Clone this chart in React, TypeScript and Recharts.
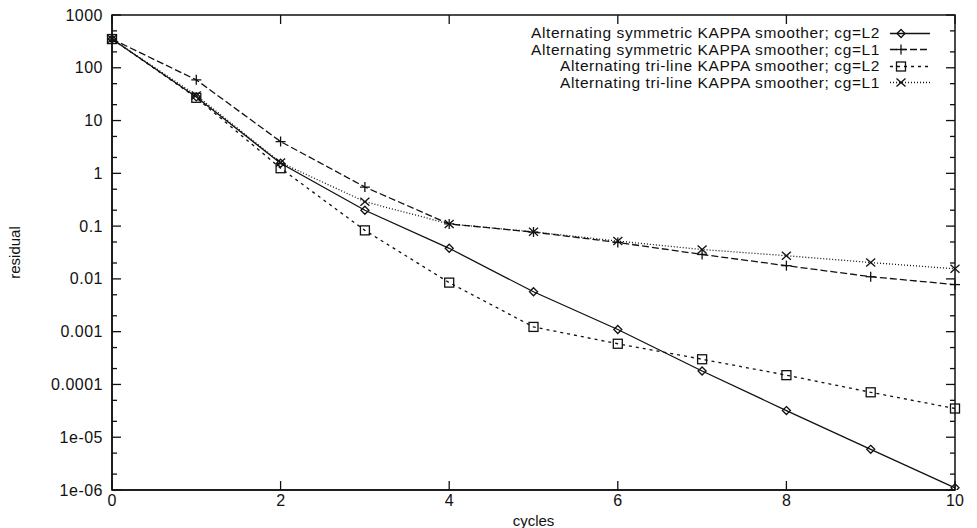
import React from "react";
import { LineChart, Line, XAxis, YAxis, ReferenceArea } from "recharts";

const cycles = [0, 1, 2, 3, 4, 5, 6, 7, 8, 9, 10];
const symmetricL2 = [350, 28, 1.55, 0.2, 0.038, 0.0057, 0.0011, 0.00018, 0.000032, 0.0000059, 0.0000011];
const symmetricL1 = [350, 59, 4.0, 0.55, 0.11, 0.077, 0.049, 0.029, 0.0178, 0.011, 0.0078];
const trilineL2 = [350, 27, 1.25, 0.083, 0.0085, 0.00123, 0.00059, 0.0003, 0.00015, 0.000071, 0.000035];
const trilineL1 = [350, 30, 1.6, 0.29, 0.11, 0.078, 0.052, 0.036, 0.0275, 0.0204, 0.0155];

const xTicks = [0, 2, 4, 6, 8, 10];
const yMajorTicks = [1000, 100, 10, 1, 0.1, 0.01, 0.001, 0.0001, 1e-5, 1e-6];
const yTickLabels = ["1000", "100", "10", "1", "0.1", "0.01", "0.001", "0.0001", "1e-05", "1e-06"];
// gnuplot puts small ticks at 2x and 5x inside every decade
const yMinorTicks = [500, 200, 50, 20, 5, 2, 0.5, 0.2, 0.05, 0.02, 0.005, 0.002, 0.0005, 0.0002, 5e-5, 2e-5, 5e-6, 2e-6];

const seriesNames = [
  "Alternating symmetric KAPPA smoother; cg=L2",
  "Alternating symmetric KAPPA smoother; cg=L1",
  "Alternating tri-line KAPPA smoother; cg=L2",
  "Alternating tri-line KAPPA smoother; cg=L1",
];

const data = cycles.map((c, i) => ({
  cycle: c,
  symL2: symmetricL2[i],
  symL1: symmetricL1[i],
  triL2: trilineL2[i],
  triL1: trilineL1[i],
}));

const W = 977;
const H = 528;
const PLOT = { left: 112, top: 15, right: 955, bottom: 490 };
const FONT = "'Liberation Sans', Arial, Helvetica, sans-serif";
const INK = "#111";

type Mark = "diamond" | "plus" | "square" | "cross";

function marker(kind: Mark, cx: number, cy: number, key?: string | number) {
  const s = { stroke: INK, strokeWidth: 1.3, fill: "none" };
  if (kind === "diamond") {
    const r = 4;
    return <polygon key={key} points={`${cx},${cy - r} ${cx + r},${cy} ${cx},${cy + r} ${cx - r},${cy}`} {...s} />;
  }
  if (kind === "square") {
    return <rect key={key} x={cx - 4.5} y={cy - 4.5} width={9} height={9} {...s} />;
  }
  if (kind === "plus") {
    return (
      <g key={key} {...s}>
        <line x1={cx - 5} x2={cx + 5} y1={cy} y2={cy} />
        <line x1={cx} x2={cx} y1={cy - 5} y2={cy + 5} />
      </g>
    );
  }
  return (
    <g key={key} {...s}>
      <line x1={cx - 4.5} x2={cx + 4.5} y1={cy - 4} y2={cy + 4} />
      <line x1={cx - 4.5} x2={cx + 4.5} y1={cy + 4} y2={cy - 4} />
    </g>
  );
}

const styles: { key: string; mark: Mark; dash?: string }[] = [
  { key: "symL2", mark: "diamond" },
  { key: "symL1", mark: "plus", dash: "7 3" },
  { key: "triL2", mark: "square", dash: "3 4" },
  { key: "triL1", mark: "cross", dash: "1 2" },
];

function dotFor(kind: Mark) {
  return (p: any) => marker(kind, p.cx, p.cy, p.index);
}

function YTick(props: any) {
  const { x, y, payload } = props;
  const idx = yMajorTicks.indexOf(payload.value);
  const major = idx >= 0;
  const len = major ? 9 : 5;
  return (
    <g>
      {major && (
        <text x={x} y={y} dy={5.5} textAnchor="end" fontFamily={FONT} fontSize={16} letterSpacing={0.5} fill={INK}>
          {yTickLabels[idx]}
        </text>
      )}
      <line x1={PLOT.left} x2={PLOT.left + len} y1={y} y2={y} stroke={INK} strokeWidth={1.3} />
      <line x1={PLOT.right} x2={PLOT.right - len} y1={y} y2={y} stroke={INK} strokeWidth={1.3} />
    </g>
  );
}

function XTick(props: any) {
  const { x, y, payload } = props;
  return (
    <g>
      <text x={x} y={y} dy={12} textAnchor="middle" fontFamily={FONT} fontSize={16} fill={INK}>
        {payload.value}
      </text>
      <line x1={x} x2={x} y1={PLOT.bottom} y2={PLOT.bottom - 9} stroke={INK} strokeWidth={1.3} />
      <line x1={x} x2={x} y1={PLOT.top} y2={PLOT.top + 9} stroke={INK} strokeWidth={1.3} />
    </g>
  );
}

function LegendBox() {
  return (
    <div
      style={{
        position: "absolute",
        top: 25,
        right: W - 932,
        fontFamily: FONT,
        fontSize: 15.5,
        letterSpacing: 0.6,
        color: INK,
      }}
    >
      {styles.map((s, i) => (
        <div
          key={s.key}
          style={{ display: "flex", justifyContent: "flex-end", alignItems: "center", height: 16.5 }}
        >
          <span style={{ whiteSpace: "nowrap", display: "inline-block", lineHeight: "16.5px", height: 16.5 }}>
            {seriesNames[i]}
          </span>
          <svg width={44} height={15} style={{ marginLeft: 8 }}>
            <line x1={2} x2={42} y1={7.5} y2={7.5} stroke={INK} strokeWidth={1.3} strokeDasharray={s.dash} />
            {marker(s.mark, 13, 7.5)}
          </svg>
        </div>
      ))}
    </div>
  );
}

export default function App() {
  return (
    <div style={{ position: "absolute", left: 0, top: 0, width: W, height: H, background: "#fff" }}>
      <LineChart
        width={W}
        height={H}
        data={data}
        margin={{ top: PLOT.top, right: W - PLOT.right, bottom: 0, left: 0 }}
      >
        <XAxis
          dataKey="cycle"
          type="number"
          domain={[0, 10]}
          ticks={xTicks}
          height={H - PLOT.bottom}
          axisLine={{ stroke: INK, strokeWidth: 1.5 }}
          tickLine={false}
          tickSize={0}
          tickMargin={4}
          tick={<XTick />}
          label={{ value: "cycles", position: "insideBottom", offset: 2, fontFamily: FONT, fontSize: 15, fill: INK }}
        />
        <YAxis
          type="number"
          scale="log"
          domain={[1e-6, 1000]}
          allowDataOverflow
          ticks={[...yMajorTicks, ...yMinorTicks]}
          interval={0}
          width={PLOT.left}
          axisLine={{ stroke: INK, strokeWidth: 1.5 }}
          tickLine={false}
          tickSize={0}
          tickMargin={9}
          tick={<YTick />}
          label={{
            content: (p: any) => {
              const vb = p.viewBox;
              const cy = vb.y + vb.height / 2;
              return (
                <text
                  x={20}
                  y={cy}
                  transform={`rotate(-90 20 ${cy})`}
                  textAnchor="middle"
                  fontFamily={FONT}
                  fontSize={15}
                  fill={INK}
                >
                  residual
                </text>
              );
            },
          }}
        />
        <ReferenceArea x1={0} x2={10} y1={1e-6} y2={1000} fill="none" stroke={INK} strokeWidth={1.5} ifOverflow="visible" />
        {styles.map((s) => (
          <Line
            key={s.key}
            dataKey={s.key}
            type="linear"
            stroke={INK}
            strokeWidth={1.3}
            strokeDasharray={s.dash}
            dot={dotFor(s.mark)}
            activeDot={false}
            isAnimationActive={false}
          />
        ))}
      </LineChart>
      <LegendBox />
    </div>
  );
}
